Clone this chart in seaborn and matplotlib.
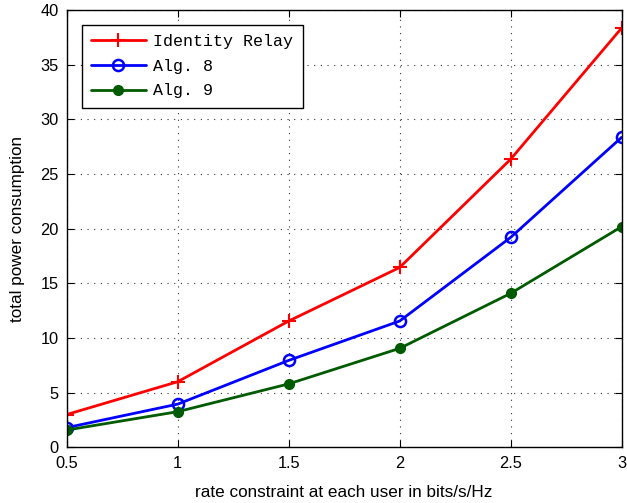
import numpy as np
import pandas as pd
import seaborn as sns
import matplotlib.pyplot as plt

# values
rate = [0.5, 1.0, 1.5, 2.0, 2.5, 3.0]
identity_relay = [3.0, 6.0, 11.55, 16.45, 26.35, 38.35]
alg8 = [1.8, 3.95, 7.95, 11.55, 19.2, 28.35]
alg9 = [1.58, 3.26, 5.8, 9.05, 14.08, 20.18]

series_names = ['Identity Relay', 'Alg. 8', 'Alg. 9']
colors = ['#ff0000', '#0000ff', '#005a00']

sns.set_style("ticks")
plt.rcParams['font.family'] = ['Liberation Sans', 'DejaVu Sans']
plt.rcParams['text.color'] = 'black'
plt.rcParams['axes.labelcolor'] = 'black'

fig = plt.figure(figsize=(6.27, 5.03), dpi=100)
ax = fig.add_axes([0.1064, 0.1107, 0.885, 0.8694])

df = pd.DataFrame({'rate': rate * 3,
                   'power': identity_relay + alg8 + alg9,
                   'alg': np.repeat(series_names, len(rate))})

sns.lineplot(data=df[df.alg == 'Identity Relay'], x='rate', y='power', ax=ax,
             color=colors[0], linewidth=2, marker='+', markersize=10,
             markeredgewidth=1.5, markeredgecolor=colors[0], label='Identity Relay')
sns.lineplot(data=df[df.alg == 'Alg. 8'], x='rate', y='power', ax=ax,
             color=colors[1], linewidth=2, marker='o', markersize=8,
             markerfacecolor='none', markeredgecolor=colors[1],
             markeredgewidth=1.8, label='Alg. 8')
sns.lineplot(data=df[df.alg == 'Alg. 9'], x='rate', y='power', ax=ax,
             color=colors[2], linewidth=2, marker='o', markersize=7,
             markeredgewidth=1, markeredgecolor=colors[2], label='Alg. 9')

ax.set_xlim(0.5, 3)
ax.set_ylim(0, 40)
ax.set_xticks([0.5, 1, 1.5, 2, 2.5, 3])
ax.set_xticklabels(['0.5', '1', '1.5', '2', '2.5', '3'])
ax.set_yticks(range(0, 41, 5))
ax.grid(True, linestyle=(0, (1, 5)), color='#333333', linewidth=0.8)
ax.tick_params(direction='in', length=5, top=True, right=True,
               labelsize=11.8, width=0.8, pad=6, colors='black')
for s in ax.spines.values():
    s.set_visible(True)
    s.set_linewidth(1)
    s.set_color('black')

ax.set_xlabel('rate constraint at each user in bits/s/Hz', fontsize=12.3, labelpad=10)
ax.set_ylabel('total power consumption', fontsize=12.3, labelpad=11)

leg = ax.legend(loc='upper left', bbox_to_anchor=(0.027, 0.966), borderaxespad=0,
                prop={'family': 'Liberation Mono', 'size': 12},
                handlelength=3.3, handletextpad=0.45, labelspacing=0.58,
                borderpad=0.55, fancybox=False, framealpha=1,
                edgecolor='black')
leg.get_frame().set_linewidth(1)

fig.savefig('out.png', dpi=100)
